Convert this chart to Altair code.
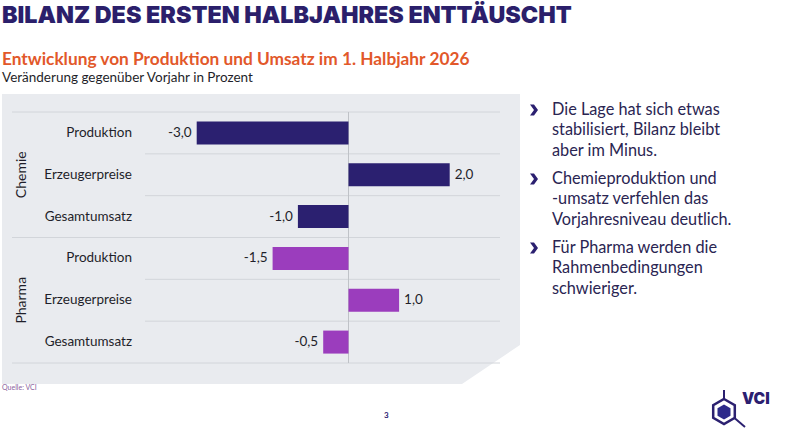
import altair as alt
import pandas as pd

# ---------------- data ----------------
groups = ["Chemie", "Chemie", "Chemie", "Pharma", "Pharma", "Pharma"]
categories = ["Produktion", "Erzeugerpreise", "Gesamtumsatz",
              "Produktion", "Erzeugerpreise", "Gesamtumsatz"]
values = [-3.0, 2.0, -1.0, -1.5, 1.0, -0.5]

group_names = ["Chemie", "Pharma"]
group_mid_category = ["Erzeugerpreise", "Erzeugerpreise"]

bullets = [
    ["Die Lage hat sich etwas", "stabilisiert, Bilanz bleibt", "aber im Minus."],
    ["Chemieproduktion und", "-umsatz verfehlen das", "Vorjahresniveau deutlich."],
    ["Für Pharma werden die", "Rahmenbedingungen", "schwieriger."],
]

title = "BILANZ DES ERSTEN HALBJAHRES ENTTÄUSCHT"
subtitle = "Entwicklung von Produktion und Umsatz im 1. Halbjahr 2026"
unit_line = "Veränderung gegenüber Vorjahr in Prozent"
source = "Quelle: VCI"
page_no = "3"
logo_text = "VCI"

# ---------------- styling ----------------
NAVY = "#2b2070"
PURPLE = "#9b3dbd"
ORANGE = "#e2582a"
PANEL = "#e9ebef"
GRID = "#d2d5da"
TEXT = "#1f1f2a"
BULLET_TXT = "#2a2552"
FONT = "Lato"

df = pd.DataFrame({"group": groups, "category": categories, "value": values})
df["row"] = df["group"] + "|" + df["category"]
df["label"] = df["value"].map(lambda v: f"{v:.1f}".replace(".", ","))
df["first"] = [i == 0 or groups[i] != groups[i - 1] for i in range(len(groups))]
df["last"] = [i == len(groups) - 1 for i in range(len(groups))]
row_order = list(df["row"])

gdf = pd.DataFrame({"group": group_names,
                    "row": [g + "|" + c for g, c in zip(group_names, group_mid_category)]})
bdf = pd.DataFrame({"idx": list(range(len(bullets))), "lines": bullets})
one = pd.DataFrame({"a": [0]})

yscale = alt.Scale(domain=row_order, range=[112, 363], paddingInner=0, paddingOuter=0)
xscale = alt.Scale(domain=[-3.0, 2.0], range=[196.7, 449.7], nice=False, zero=False)
Y = lambda **kw: alt.Y("row:N", scale=yscale, axis=None, **kw)
X = alt.X("value:Q", scale=xscale, axis=None)

base = alt.Chart(df)

panel = alt.Chart(one).mark_rect(color=PANEL).encode(
    x=alt.value(2), x2=alt.value(520), y=alt.value(94), y2=alt.value(384))
cut = alt.Chart(one).mark_point(
    shape="M 0 2 L 0 0 L 58 -39 L 62 -39 L 62 2 Z", size=4, filled=True,
    color="white", opacity=1, strokeWidth=0).encode(x=alt.value(462), y=alt.value(384))

row_lines = base.transform_filter("!datum.first").mark_rule(color=GRID, strokeWidth=1).encode(
    y=Y(bandPosition=0), x=alt.value(145), x2=alt.value(500))
group_lines = base.transform_filter("datum.first").mark_rule(color=GRID, strokeWidth=1).encode(
    y=Y(bandPosition=0), x=alt.value(12), x2=alt.value(500))
bottom_line = base.transform_filter("datum.last").mark_rule(color=GRID, strokeWidth=1).encode(
    y=Y(bandPosition=1), x=alt.value(12), x2=alt.value(500))

zero_line = alt.Chart(one).mark_rule(color="#bfc2c7", strokeWidth=1).encode(
    x=alt.X(datum=0, type="quantitative", scale=xscale, axis=None),
    y=alt.value(112), y2=alt.value(363))

bars = base.mark_bar(size=23).encode(
    x=X, x2=alt.X2(datum=0), y=Y(),
    color=alt.Color("group:N", scale=alt.Scale(domain=group_names, range=[NAVY, PURPLE]), legend=None))

neg_labels = base.transform_filter("datum.value < 0").mark_text(
    align="right", baseline="middle", dx=-5, font=FONT, fontSize=13.5, color=TEXT).encode(
    x=X, y=Y(), text="label:N")
pos_labels = base.transform_filter("datum.value >= 0").mark_text(
    align="left", baseline="middle", dx=5, font=FONT, fontSize=13.5, color=TEXT).encode(
    x=X, y=Y(), text="label:N")

cat_labels = base.mark_text(align="right", baseline="middle", font=FONT, fontSize=13.5, color=TEXT).encode(
    x=alt.value(132), y=Y(), text="category:N")
grp_labels = alt.Chart(gdf).mark_text(angle=270, align="center", baseline="middle",
                                      font=FONT, fontSize=14, color=TEXT).encode(
    x=alt.value(22), y=Y(), text="group:N")

def txt(s, x, y, size, color, weight="normal", align="left", font=FONT):
    return alt.Chart(pd.DataFrame({"t": [s]})).mark_text(
        align=align, baseline="alphabetic", font=font, fontSize=size, fontWeight=weight,
        color=color).encode(x=alt.value(x), y=alt.value(y), text="t:N")

title_t = txt(title, 2, 22.5, 23.3, "#2b1f6b", weight=900, font="Inter")
sub_t = txt(subtitle, 2, 65, 17.3, ORANGE, weight="bold")
unit_t = txt(unit_line, 2, 82, 13.5, TEXT)
src_t = txt(source, 2, 390, 7, "#8a5f9e")
page_t = txt(page_no, 384, 418, 8, NAVY, weight="bold")
logo_t = txt(logo_text, 742, 404, 15.5, NAVY, weight=900, font="Inter")

bullet_y = alt.Scale(domain=[0, 1, 2], range=[115, 253], padding=0)
bullet_text = alt.Chart(bdf).mark_text(
    align="left", baseline="alphabetic", font=FONT, fontSize=16.3, lineHeight=20.3,
    color=BULLET_TXT).encode(
    x=alt.value(552), y=alt.Y("idx:O", scale=bullet_y, axis=None), text="lines")
bullet_mark = alt.Chart(bdf).mark_point(
    shape="M -4 -5.5 L 0 -5.5 L 4 0 L 0 5.5 L -4 5.5 L 0 0 Z", size=4, filled=True,
    color=NAVY, opacity=1, strokeWidth=0).encode(
    x=alt.value(534), y=alt.Y("idx:O", scale=alt.Scale(domain=[0, 1, 2], range=[110, 248], padding=0), axis=None))

hex_outer = alt.Chart(one).mark_point(
    shape="M 0 -12.5 L 10.8 -6.25 L 10.8 6.25 L 0 12.5 L -10.8 6.25 L -10.8 -6.25 Z",
    size=4, filled=False, color=NAVY, strokeWidth=2.5, opacity=1).encode(
    x=alt.value(724), y=alt.value(411.5))
hex_inner = alt.Chart(one).mark_point(
    shape="M 0 -7.5 L 6.5 -3.75 L 6.5 3.75 L 0 7.5 L -6.5 3.75 L -6.5 -3.75 Z",
    size=4, filled=True, color="#2d2a8a", strokeWidth=0, opacity=1).encode(
    x=alt.value(724), y=alt.value(412))
stem = alt.Chart(one).mark_rule(color=NAVY, strokeWidth=2).encode(
    x=alt.value(724), y=alt.value(390), y2=alt.value(399))
diag = alt.Chart(one).mark_rule(color=NAVY, strokeWidth=2).encode(
    x=alt.value(734.5), y=alt.value(418), x2=alt.value(745), y2=alt.value(427))

chart = alt.layer(
    panel, cut, row_lines, group_lines, bottom_line, zero_line, bars,
    neg_labels, pos_labels, cat_labels, grp_labels,
    title_t, sub_t, unit_t, src_t, page_t, logo_t,
    bullet_text, bullet_mark, hex_outer, hex_inner, stem, diag,
).resolve_scale(x="independent", y="independent", color="independent").properties(
    width=800, height=436, padding=0, autosize=alt.AutoSizeParams(type="none"),
    background="white",
).configure_view(stroke=None)

chart.save("out.html", embed_options={"renderer": "svg", "actions": False})
